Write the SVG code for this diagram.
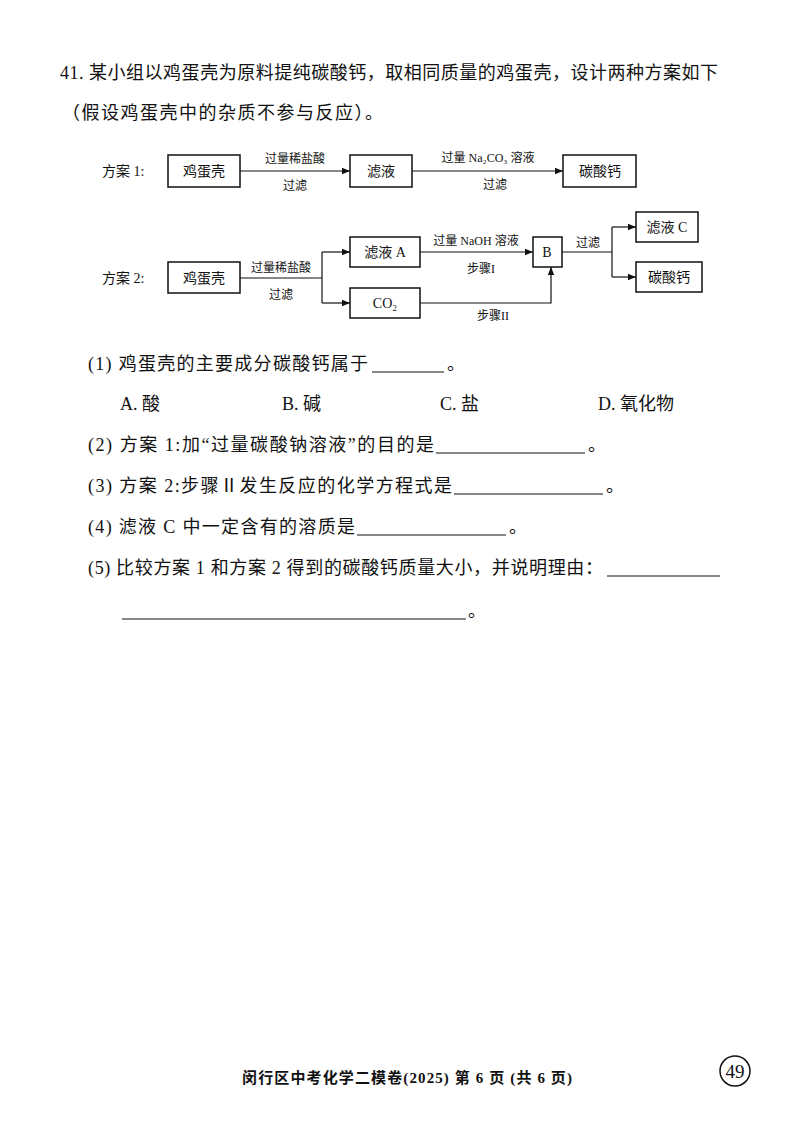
<svg xmlns="http://www.w3.org/2000/svg" width="800" height="1132" viewBox="0 0 800 1132">
<style>
text{font-family:"Liberation Serif","Noto Sans CJK SC",serif;fill:#111}
.q{font-size:18px}
.s{font-size:12px}
.n{font-size:14px}
.b{fill:#fff;stroke:#111;stroke-width:1.5}
.l{fill:none;stroke:#111;stroke-width:1.2}
.u{stroke:#111;stroke-width:1}
</style>
<defs><marker id="a" viewBox="0 0 10 10" refX="10" refY="5" markerWidth="7" markerHeight="7" orient="auto"><path d="M0,1 L10,5 L0,9 z" fill="#111"/></marker></defs>
<rect width="800" height="1132" fill="#fff"/>
<text class="q" x="60" y="79" textLength="658" lengthAdjust="spacing">41. 某小组以鸡蛋壳为原料提纯碳酸钙，取相同质量的鸡蛋壳，设计两种方案如下</text>
<text class="q" x="62" y="119" textLength="321" lengthAdjust="spacing">（假设鸡蛋壳中的杂质不参与反应）。</text>
<text class="n" x="102" y="176">方案 1:</text>
<text class="n" x="102" y="283">方案 2:</text>
<g id="connectors">
<path class="l" d="M240,171 H350" marker-end="url(#a)"/>
<path class="l" d="M412,171 H563" marker-end="url(#a)"/>
<path class="l" d="M240,278 H322"/>
<path class="l" d="M322,252 V303"/>
<path class="l" d="M322,252 H350" marker-end="url(#a)"/>
<path class="l" d="M322,303 H350" marker-end="url(#a)"/>
<path class="l" d="M420,252 H533" marker-end="url(#a)"/>
<path class="l" d="M420,303 H551 V267" marker-end="url(#a)"/>
<path class="l" d="M562,252 H612"/>
<path class="l" d="M612,227 V277"/>
<path class="l" d="M612,227 H636" marker-end="url(#a)"/>
<path class="l" d="M612,277 H636" marker-end="url(#a)"/>
<text class="s" x="295" y="163" text-anchor="middle">过量稀盐酸</text>
<text class="s" x="295" y="190" text-anchor="middle">过滤</text>
<text class="s" x="488" y="162" text-anchor="middle">过量 Na₂CO₃ 溶液</text>
<text class="s" x="495" y="189" text-anchor="middle">过滤</text>
<text class="s" x="281" y="272" text-anchor="middle">过量稀盐酸</text>
<text class="s" x="281" y="299" text-anchor="middle">过滤</text>
<text class="s" x="476" y="245" text-anchor="middle">过量 NaOH 溶液</text>
<text class="s" x="481" y="273" text-anchor="middle">步骤I</text>
<text class="s" x="493" y="320" text-anchor="middle">步骤II</text>
<text class="s" x="588" y="247" text-anchor="middle">过滤</text>
</g>
<g id="n1"><rect class="b" x="168" y="155" width="72" height="32"/><text class="n" x="204" y="176" text-anchor="middle">鸡蛋壳</text></g>
<g id="n2"><rect class="b" x="350" y="155" width="62" height="32"/><text class="n" x="381" y="176" text-anchor="middle">滤液</text></g>
<g id="n3"><rect class="b" x="563" y="155" width="73" height="32"/><text class="n" x="600" y="176" text-anchor="middle">碳酸钙</text></g>
<g id="n4"><rect class="b" x="168" y="262" width="72" height="31"/><text class="n" x="204" y="283" text-anchor="middle">鸡蛋壳</text></g>
<g id="n5"><rect class="b" x="350" y="237" width="70" height="30"/><text class="n" x="385" y="257" text-anchor="middle">滤液 A</text></g>
<g id="n6"><rect class="b" x="350" y="288" width="70" height="30"/><text class="n" x="385" y="308" text-anchor="middle">CO₂</text></g>
<g id="n7"><rect class="b" x="533" y="237" width="29" height="30"/><text class="n" x="547" y="257" text-anchor="middle">B</text></g>
<g id="n8"><rect class="b" x="636" y="212" width="62" height="30"/><text class="n" x="667" y="232" text-anchor="middle">滤液 C</text></g>
<g id="n9"><rect class="b" x="636" y="262" width="66" height="30"/><text class="n" x="669" y="282" text-anchor="middle">碳酸钙</text></g>
<text class="q" x="88" y="370" textLength="280" lengthAdjust="spacing">(1) 鸡蛋壳的主要成分碳酸钙属于</text><line class="u" x1="372" y1="372" x2="444" y2="372"/><text class="q" x="447" y="370">。</text>
<text class="q" x="120" y="410">A. 酸</text>
<text class="q" x="282" y="410">B. 碱</text>
<text class="q" x="440" y="410">C. 盐</text>
<text class="q" x="598" y="410">D. 氧化物</text>
<text class="q" x="88" y="451" textLength="346" lengthAdjust="spacing">(2) 方案 1:加“过量碳酸钠溶液”的目的是</text><line class="u" x1="436" y1="453" x2="585" y2="453"/><text class="q" x="588" y="451">。</text>
<text class="q" x="88" y="492" textLength="364" lengthAdjust="spacing">(3) 方案 2:步骤Ⅱ发生反应的化学方程式是</text><line class="u" x1="454" y1="494" x2="603" y2="494"/><text class="q" x="606" y="492">。</text>
<text class="q" x="88" y="533" textLength="267" lengthAdjust="spacing">(4) 滤液 C 中一定含有的溶质是</text><line class="u" x1="357" y1="535" x2="506" y2="535"/><text class="q" x="509" y="533">。</text>
<text class="q" x="88" y="574" textLength="515" lengthAdjust="spacing">(5) 比较方案 1 和方案 2 得到的碳酸钙质量大小，并说明理由：</text><line class="u" x1="607" y1="576" x2="720" y2="576"/>
<line class="u" x1="122" y1="619" x2="466" y2="619"/><text class="q" x="468" y="617">。</text>
<text x="242" y="1083" textLength="330" lengthAdjust="spacing" style="font-size:15px;font-weight:bold">闵行区中考化学二模卷(2025)  第 6 页 (共 6 页)</text>
<circle cx="735" cy="1071" r="15" fill="none" stroke="#111" stroke-width="1.5"/>
<text x="735" y="1078" text-anchor="middle" style="font-size:19px">49</text>
</svg>
